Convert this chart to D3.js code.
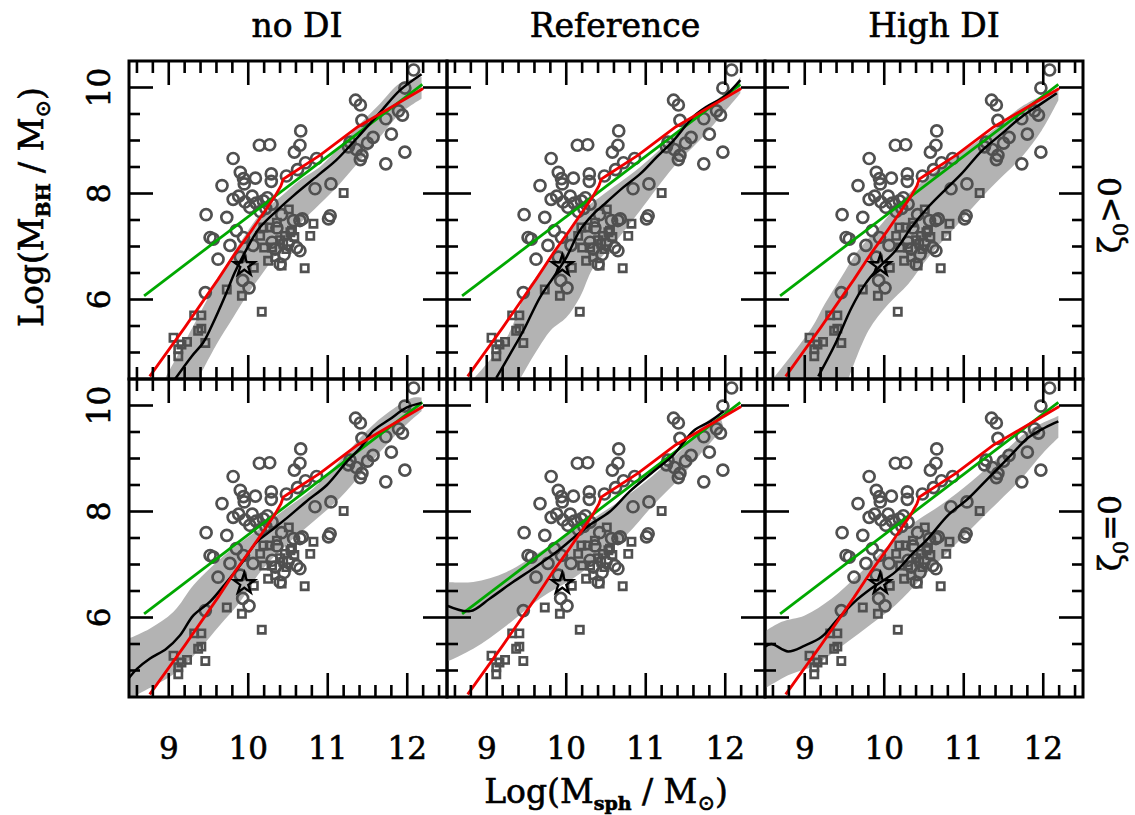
<!DOCTYPE html>
<html><head><meta charset="utf-8">
<script src="https://cdn.jsdelivr.net/npm/d3@7"></script>
<style>body{margin:0;background:#fff}svg{display:block}</style>
</head><body>
<svg id="chart" width="1135" height="815"></svg>
<script>
// ---------- data ----------
const colTitles = ["no DI", "Reference", "High DI"];
const rowLabels = [["ζ", "0", ">0"], ["ζ", "0", "=0"]];
const xTicks = [9, 10, 11, 12];
const yTicks = [6, 8, 10];
const xDomain = [8.5, 12.5];
const yDomain = [4.5, 10.5];

const obsCircles = [
 [12.08,10.33],[11.97,9.99],[11.35,9.76],[11.41,9.67],[11.43,9.38],[11.89,9.56],[11.94,9.48],[11.73,9.41],
 [11.80,9.12],[11.97,8.78],[11.73,8.56],[11.57,9.06],[11.28,8.97],[11.36,8.83],[11.43,8.72],[11.41,8.64],
 [11.26,8.88],[11.50,8.95],[10.86,8.66],[10.72,8.58],[11.04,8.18],[10.84,8.09],[10.66,9.18],[10.14,8.91],
 [10.27,8.92],[10.65,8.91],[10.58,8.78],[9.81,8.66],[9.90,8.40],[9.94,8.28],[9.95,8.18],[10.09,8.29],
 [10.29,8.37],[10.29,8.23],[9.67,8.15],[10.48,8.33],[10.62,8.45],[9.81,7.89],[9.96,7.84],[10.02,7.74],
 [10.10,7.82],[10.19,7.86],[10.24,7.92],[10.22,7.72],[10.15,7.66],[10.30,7.80],[9.88,7.95],[10.05,7.95],
 [9.47,7.60],[9.73,7.55],[9.52,7.17],[9.56,7.14],[9.77,7.02],[9.62,6.76],[9.94,7.17],[9.93,6.36],
 [10.01,6.22],[9.46,6.13],[10.06,7.02],[9.90,6.80],[9.85,7.30],[10.34,6.95],[10.40,6.67],[10.61,6.98],
 [10.65,7.49],[10.57,7.49],[10.68,7.52],[10.65,6.92],[11.03,7.58],[11.01,7.52],[10.45,6.85],[10.30,7.08],
 [10.50,7.05],[10.42,7.60],[10.36,7.35]
];
const obsSquares = [
 [11.20,8.01],[10.82,7.43],[10.78,7.20],[10.51,7.70],[10.27,7.36],[10.53,7.27],[10.44,7.05],[10.25,6.73],
 [10.71,6.59],[10.07,6.60],[9.73,6.19],[9.92,6.07],[10.17,5.77],[9.32,5.70],[9.41,5.70],[9.37,5.41],
 [9.46,5.18],[9.06,5.28],[9.23,5.20],[9.12,5.06],[9.12,4.93],[10.55,7.30],[10.19,7.36],[10.42,6.64],
 [10.36,7.45],[10.46,7.20],[10.58,7.18],[10.40,7.12],[10.30,6.98],[10.34,6.80],[10.20,6.98],[10.15,7.20],
 [10.48,6.95],[9.41,5.45],[9.16,5.15]
];
const milkyWayStar = [9.95, 6.64];

const greenFit = [[8.69,6.07],[12.19,10.06]];
const redFit = [[8.76,4.55],[9.20,5.47],[9.62,6.38],[9.83,6.86],[10.04,7.30],[10.21,7.67],[10.34,7.96],
 [10.41,8.14],[10.44,8.27],[10.50,8.33],[10.90,8.72],[11.38,9.26],[12.20,9.98]];

// model medians and scatter bands, one set per panel
const medNoDIpos = [[9.08,4.5],[9.29,4.93],[9.43,5.18],[9.54,5.50],[9.71,6.07],[9.83,6.51],[9.98,6.95],[10.13,7.33],
 [10.34,7.65],[10.57,7.96],[10.90,8.37],[11.10,8.62],[11.34,9.0],[11.68,9.57],[11.91,9.95],[12.18,10.25]];
const hiNoDIpos = [[8.95,4.5],[9.23,5.28],[9.52,6.10],[9.73,6.67],[9.94,7.17],[10.15,7.61],[10.40,7.93],[10.65,8.25],
 [10.90,8.50],[11.15,8.88],[11.41,9.32],[11.66,9.70],[11.91,10.08],[12.18,10.20]];
const loNoDIpos = [[9.37,4.5],[9.60,5.15],[9.81,5.66],[10.02,6.16],[10.23,6.60],[10.44,7.05],[10.65,7.43],[10.90,7.80],
 [11.15,8.18],[11.41,8.63],[11.66,9.07],[11.91,9.51],[12.18,9.79]];

const medRefPos = [[9.12,4.52],[9.29,4.96],[9.46,5.41],[9.67,6.04],[9.84,6.42],[10.0,6.79],[10.17,7.30],[10.34,7.61],
 [10.51,7.84],[10.72,8.12],[10.93,8.37],[11.14,8.69],[11.35,9.0],[11.60,9.45],[11.77,9.64],[11.98,9.82],[12.19,10.14]];
const hiRefPos = [[8.83,4.5],[9.25,5.28],[9.50,6.16],[9.71,6.60],[10.0,7.17],[10.21,7.68],[10.42,7.93],[10.93,8.5],
 [11.35,9.07],[11.77,9.64],[12.10,10.01],[12.19,10.2]];
const loRefPos = [[9.42,4.5],[9.80,5.41],[10.0,5.66],[10.17,6.04],[10.34,6.60],[10.63,7.11],[10.93,7.68],[11.35,8.5],
 [11.72,9.07],[12.19,9.89]];

const medHighPos = [[9.17,4.55],[9.38,5.15],[9.59,5.85],[9.76,6.29],[9.93,6.60],[10.14,6.92],[10.34,7.36],[10.55,7.74],
 [10.76,8.06],[10.97,8.37],[11.23,8.81],[11.48,9.13],[11.73,9.45],[11.98,9.70],[12.17,9.89]];
const hiHighPos = [[8.6,4.5],[9.09,5.47],[9.25,5.91],[9.46,6.42],[9.67,6.92],[9.93,7.36],[10.22,7.87],[10.55,8.31],
 [10.89,8.69],[11.31,9.13],[11.73,9.64],[12.19,9.98]];
const loHighPos = [[9.55,4.5],[9.80,5.41],[10.05,5.91],[10.30,6.29],[10.55,6.79],[10.89,7.36],[11.31,8.06],[11.73,8.69],
 [11.98,9.19],[12.19,9.76]];

const medNoDIzero = [[8.49,4.84],[8.60,5.03],[8.76,5.22],[8.97,5.41],[9.14,5.66],[9.31,6.04],[9.52,6.30],[9.73,6.67],
 [9.90,6.99],[10.11,7.43],[10.27,7.62],[10.48,7.87],[10.73,8.19],[10.99,8.50],[11.24,8.94],[11.41,9.20],[11.57,9.52],
 [11.78,9.74],[11.99,9.96],[12.18,10.05]];
const hiNoDIzero = [[8.49,5.60],[8.76,5.79],[9.06,6.11],[9.31,6.61],[9.52,6.93],[9.81,7.31],[10.15,7.68],[10.48,8.06],
 [10.82,8.44],[11.15,8.95],[11.49,9.52],[11.78,9.89],[12.08,10.15],[12.18,10.15]];
const loNoDIzero = [[8.49,4.46],[9.10,4.97],[9.39,5.41],[9.64,5.85],[9.90,6.30],[10.15,6.86],[10.48,7.37],[10.82,7.81],
 [11.15,8.25],[11.45,8.76],[11.74,9.26],[11.99,9.64],[12.18,9.89]];

const medRefZero = [[8.49,6.23],[8.79,6.12],[9.04,6.36],[9.33,6.67],[9.59,6.93],[9.88,7.24],[10.09,7.50],[10.30,7.75],
 [10.55,8.0],[10.80,8.38],[11.10,8.76],[11.35,9.07],[11.60,9.52],[11.81,9.70],[11.98,9.89]];
const hiRefZero = [[8.49,6.67],[8.83,6.67],[9.25,6.86],[9.67,7.24],[10.01,7.56],[10.34,7.87],[10.72,8.25],[11.10,8.69],
 [11.43,9.14],[11.77,9.70],[11.93,9.83]];
const loRefZero = [[8.49,5.16],[8.83,5.41],[9.25,5.85],[9.67,6.36],[10.09,6.74],[10.42,7.12],[10.76,7.56],[11.10,8.13],
 [11.43,8.63],[11.68,9.07],[11.98,9.58]];

const medHighZero = [[8.49,5.44],[8.58,5.50],[8.79,5.36],[9.0,5.47],[9.21,5.63],[9.42,5.98],[9.63,6.30],[9.84,6.55],
 [10.14,6.86],[10.34,7.18],[10.55,7.49],[10.81,7.94],[11.06,8.25],[11.31,8.63],[11.56,9.01],[11.81,9.39],[12.02,9.58],[12.19,9.70]];
const hiHighZero = [[8.49,5.73],[8.71,5.92],[9.0,6.04],[9.34,6.36],[9.67,6.80],[9.97,7.24],[10.34,7.75],[10.72,8.13],
 [11.10,8.57],[11.43,9.01],[11.81,9.52],[12.19,9.80]];
const loHighZero = [[8.49,4.65],[8.79,4.91],[9.13,5.10],[9.42,5.41],[9.76,5.79],[10.14,6.23],[10.47,6.74],[10.89,7.37],
 [11.31,8.0],[11.73,8.63],[12.02,9.14],[12.19,9.39]];

const panels = [
 {row:0, col:0, med:medNoDIpos, hi:hiNoDIpos, lo:loNoDIpos},
 {row:0, col:1, med:medRefPos, hi:hiRefPos, lo:loRefPos},
 {row:0, col:2, med:medHighPos, hi:hiHighPos, lo:loHighPos},
 {row:1, col:0, med:medNoDIzero, hi:hiNoDIzero, lo:loNoDIzero},
 {row:1, col:1, med:medRefZero, hi:hiRefZero, lo:loRefZero},
 {row:1, col:2, med:medHighZero, hi:hiHighZero, lo:loHighZero}
];

// ---------- layout ----------
const left0 = 129, top0 = 61, panelW = 318, panelH = 318;
const serif = "'DejaVu Serif', serif";
const svg = d3.select("#chart");
const x = d3.scaleLinear().domain(xDomain).range([0, panelW]);
const y = d3.scaleLinear().domain(yDomain).range([panelH, 0]);
const line = d3.line().x(d => x(d[0])).y(d => y(d[1]));
const smooth = d3.line().x(d => x(d[0])).y(d => y(d[1])).curve(d3.curveCatmullRom);

const xMinor = d3.range(8.6, 12.45, 0.2).filter(v => !xTicks.some(t => Math.abs(t - v) < 1e-6));
const yMinor = d3.range(5, 10.45, 0.5).filter(v => !yTicks.some(t => Math.abs(t - v) < 1e-6));

const defs = svg.append("defs");
defs.append("clipPath").attr("id", "pclip").append("rect")
  .attr("width", panelW).attr("height", panelH);

function styleText(sel, size) {
  return sel.attr("font-family", serif).attr("font-size", size)
    .attr("fill", "#000").attr("stroke", "#000").attr("stroke-width", 0.6);
}

panels.forEach(p => {
  const g = svg.append("g")
    .attr("transform", `translate(${left0 + p.col * panelW},${top0 + p.row * panelH})`);
  const inner = g.append("g").attr("clip-path", "url(#pclip)");

  // scatter band
  const up = smooth(p.hi);
  const dn = smooth(p.lo.slice().reverse()).replace(/^M/, "L");
  inner.append("path").attr("d", up + dn + "Z").attr("fill", "#b3b3b3").attr("stroke", "none");

  // observational points
  inner.selectAll("circle.obs").data(obsCircles).join("circle")
    .attr("class", "obs").attr("cx", d => x(d[0])).attr("cy", d => y(d[1])).attr("r", 5.5)
    .attr("fill", "none").attr("stroke", "#505050").attr("stroke-width", 2.7);
  inner.selectAll("path.sq").data(obsSquares).join("path")
    .attr("class", "sq").attr("d", d3.symbol(d3.symbolSquare, 54))
    .attr("transform", d => `translate(${x(d[0])},${y(d[1])})`)
    .attr("fill", "none").attr("stroke", "#505050").attr("stroke-width", 2.6);

  // fits and model median
  inner.append("path").attr("d", line(greenFit)).attr("fill", "none")
    .attr("stroke", "#00a800").attr("stroke-width", 2.8);
  inner.append("path").attr("d", smooth(p.med)).attr("fill", "none")
    .attr("stroke", "#000").attr("stroke-width", 2.5);
  inner.append("path").attr("d", line(redFit)).attr("fill", "none")
    .attr("stroke", "#f00000").attr("stroke-width", 2.8).attr("stroke-linejoin", "round");

  // star
  inner.append("path").attr("d", d3.symbol(d3.symbolStar, 135))
    .attr("transform", `translate(${x(milkyWayStar[0])},${y(milkyWayStar[1])})`)
    .attr("fill", "none").attr("stroke", "#000").attr("stroke-width", 2.3);

  // ticks on four sides
  const tk = g.append("g").attr("stroke", "#000").attr("stroke-width", 2.6);
  const drawX = (vals, len) => vals.forEach(v => {
    tk.append("line").attr("x1", x(v)).attr("x2", x(v)).attr("y1", panelH).attr("y2", panelH - len);
    tk.append("line").attr("x1", x(v)).attr("x2", x(v)).attr("y1", 0).attr("y2", len);
  });
  const drawY = (vals, len) => vals.forEach(v => {
    tk.append("line").attr("y1", y(v)).attr("y2", y(v)).attr("x1", 0).attr("x2", len);
    tk.append("line").attr("y1", y(v)).attr("y2", y(v)).attr("x1", panelW).attr("x2", panelW - len);
  });
  drawX(xTicks, 24); drawX(xMinor, 12);
  drawY(yTicks, 24); drawY(yMinor, 11);

  g.append("rect").attr("width", panelW).attr("height", panelH)
    .attr("fill", "none").attr("stroke", "#000").attr("stroke-width", 3);

  // tick labels
  if (p.row === 1) {
    xTicks.forEach(t => styleText(g.append("text"), 31).attr("x", x(t)).attr("y", panelH + 62)
      .attr("text-anchor", "middle").text(t));
  }
  if (p.col === 0) {
    yTicks.forEach(t => styleText(g.append("text"), 31)
      .attr("transform", `translate(-19,${y(t)}) rotate(-90)`)
      .attr("text-anchor", "middle").text(t));
  }
});

// column titles
const titleX = [297, 615, 934];
colTitles.forEach((t, i) => styleText(svg.append("text"), 33).attr("x", titleX[i]).attr("y", 37)
  .attr("text-anchor", "middle").text(t));

// row labels
rowLabels.forEach((lab, i) => {
  const t = styleText(svg.append("text"), 31)
    .attr("transform", `translate(1121,${top0 + panelH * (i + 0.5) - 5}) rotate(-90)`)
    .attr("text-anchor", "middle");
  t.append("tspan").text(lab[0]);
  t.append("tspan").attr("font-size", 21).attr("dy", 7).text(lab[1]);
  t.append("tspan").attr("dy", -7).text(lab[2]);
});

// axis titles
function massLabel(sel, sub) {
  sel.append("tspan").text("Log(M");
  sel.append("tspan").attr("font-size", 19).attr("font-weight", "bold").attr("dy", 7).text(sub);
  sel.append("tspan").attr("dy", -7).text(" / M");
  sel.append("tspan").attr("font-size", 21).attr("dy", 7).text("⊙");
  sel.append("tspan").attr("dy", -7).text(")");
}
const xl = styleText(svg.append("text"), 33).attr("x", left0 + 1.5 * panelW).attr("y", 803)
  .attr("text-anchor", "middle");
massLabel(xl, "sph");
const yl = styleText(svg.append("text"), 33).attr("transform", `translate(43,207) rotate(-90)`)
  .attr("text-anchor", "middle");
massLabel(yl, "BH");
</script>
</body></html>
